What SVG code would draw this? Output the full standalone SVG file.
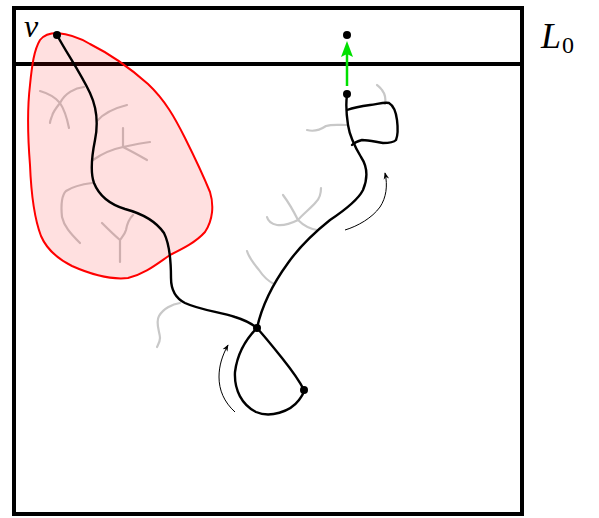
<svg xmlns="http://www.w3.org/2000/svg" width="599" height="518" viewBox="0 0 599 518">
  <style>
    .frame { fill: none; stroke: #000; stroke-width: 4; }
    .walk { fill: none; stroke: #000; stroke-width: 2.4; stroke-linecap: round; stroke-linejoin: round; }
    .twig { fill: none; stroke: #c8c8c8; stroke-width: 2.2; stroke-linecap: round; stroke-linejoin: round; }
    .dir { fill: none; stroke: #000; stroke-width: 1; }
    .dot { fill: #000; }
    .lbl { font-family: "Liberation Serif", "DejaVu Serif", serif; fill: #000; }
  </style>
  <defs>
    <marker id="tip" viewBox="0 0 10 10" refX="9" refY="5" markerWidth="7" markerHeight="7" orient="auto" markerUnits="userSpaceOnUse">
      <path d="M0,1 L10,5 L0,9 L3,5 Z" fill="#000"/>
    </marker>
  </defs>

  <!-- grey side branches -->
  <g id="branches">
    <path class="twig" d="M84,87 C75,88 65,93 60,103 M60,103 C55,97 47,93 40,91 M60,103 C56,108 53,112 52,116 C51,119 50,121 50,123 M60,103 C64,109 67,118 69,128"/>
    <path class="twig" d="M97,121 C103,114 115,108 127,105"/>
    <path class="twig" d="M93,160 C103,153 113,149 123,147 M123,147 C123,140 123,134 123,128 M123,147 C132,145 141,143 150,142 M123,147 C131,151 140,156 147,160"/>
    <path class="twig" d="M92,183 C84,184 72,187 66,191 C61,196 61,207 62,217 C64,226 70,233 80,243"/>
    <path class="twig" d="M133,215 C129,219 127,224 126,230 C125,234 122,237 120,240 M102,223 C108,229 114,235 120,240 C120,248 120,255 120,262"/>
    <path class="twig" d="M180,303 C172,304 163,309 159,316 C155,323 160,332 160,338 C160,342 158,345 157,347"/>
    <path class="twig" d="M317,230 C311,229 303,225 298,220 M298,220 C294,212 289,203 283,195 M298,220 C292,223 284,226 277,225 C272,224 268,221 267,217 M298,220 C303,214 310,209 316,202 C320,198 321,193 321,188"/>
    <path class="twig" d="M247,251 C249,258 254,264 259,270 C263,276 268,281 274,284"/>
    <path class="twig" d="M346,125 C340,125 332,124 326,126 C320,130 314,132 307,130"/>
    <path class="twig" d="M385,104 C386,99 385,94 382,90 C380,87 378,86 377,85"/>
  </g>

  <!-- box and the top strip L0 -->
  <g id="box">
    <rect class="frame" x="14" y="8" width="508" height="506"/>
    <line class="frame" x1="14" y1="64" x2="522" y2="64"/>
  </g>

  <!-- shaded region around v -->
  <g id="region">
    <path d="M57,33 C70,34 80,38 90,44 C110,54 130,68 148,84 C165,100 175,118 185,138 C195,158 203,175 210,192 C214,205 213,220 205,232 C196,242 184,248 170,255 C158,263 145,274 128,278 C110,280 90,274 72,266 C58,259 47,250 41,236 C33,215 31,190 30,165 C28,140 27,110 30,85 C32,65 34,50 40,40 C44,35 50,33 57,33 Z" fill="#ff0000" fill-opacity="0.12" stroke="#ff0000" stroke-width="2"/>
  </g>

  <!-- the walk -->
  <g id="walk">
    <path class="walk" d="M57,35 C66,52 80,72 90,93 C97,108 98,125 95,140 C92,155 90,172 94,183 C100,198 112,205 125,209 C140,213 155,220 164,233 C170,245 171,260 171,278 C171,289 175,298 185,303 C200,310 220,312 235,317 C245,320 252,324 257,328"/>
    <path class="walk" d="M257,328 C245,340 237,356 235,372 C234,390 242,405 256,412 C270,418 290,412 299,400 C302,396 304,393 304,390 C298,378 290,368 282,358 C274,348 266,338 257,328"/>
    <path class="walk" d="M257,328 C262,305 272,285 288,263 C300,246 315,232 330,220 C345,210 358,200 363,190 C368,178 367,166 361,157 C355,147 350,138 348,125 C346,112 346,102 347,95"/>
    <path class="walk" d="M347,110 C355,107 362,106 370,105 C378,104 384,102 389,103 C394,106 396,112 397,120 C398,128 398,135 396,140 C393,143 388,143 383,143 C376,142 369,140 362,140 C358,141 355,142 352,145"/>
  </g>

  <!-- green step into L0 -->
  <g id="step">
    <line x1="347" y1="86" x2="347" y2="52" stroke="#00e000" stroke-width="2.5"/>
    <path d="M347,41 L353,57 L347,54 L341,57 Z" fill="#00e000"/>
  </g>

  <!-- orientation hints -->
  <g id="hints">
    <path class="dir" d="M235,412 C224,402 219,390 219,377 C219,366 222,356 228,345" marker-end="url(#tip)"/>
    <path class="dir" d="M345,230 C358,226 372,218 380,207 C386,198 388,186 385,173" marker-end="url(#tip)"/>
  </g>

  <!-- vertices -->
  <g id="vertices">
    <circle class="dot" cx="57" cy="35" r="4"/>
    <circle class="dot" cx="347" cy="35" r="4"/>
    <circle class="dot" cx="347" cy="94" r="4"/>
    <circle class="dot" cx="257" cy="328" r="4"/>
    <circle class="dot" cx="304" cy="390" r="4"/>
  </g>

  <!-- labels -->
  <g id="labels">
    <text class="lbl" x="24" y="37" font-size="32" font-style="italic">v</text>
    <text class="lbl" x="541" y="48" font-size="36" font-style="italic">L</text>
    <text class="lbl" x="562" y="53" font-size="24">0</text>
  </g>
</svg>
